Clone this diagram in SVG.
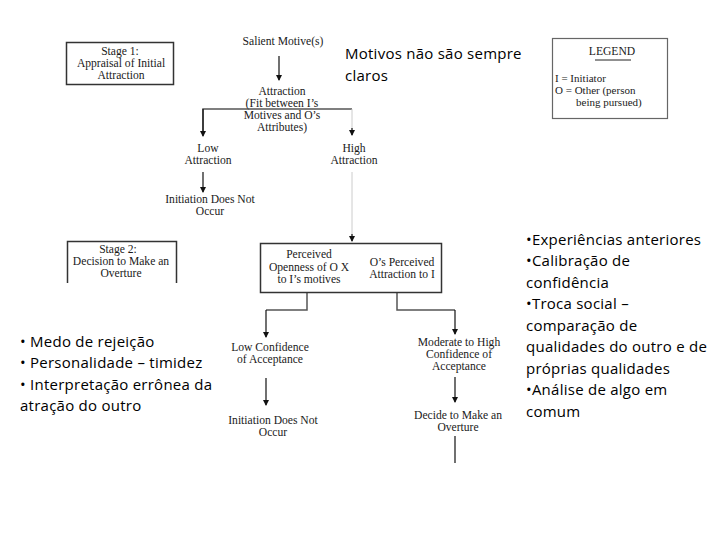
<svg xmlns="http://www.w3.org/2000/svg" width="720" height="540" viewBox="0 0 720 540">
<defs>
<marker id="ah" markerWidth="6" markerHeight="6" refX="5" refY="3" orient="auto" markerUnits="userSpaceOnUse">
<path d="M0,0 L6,3 L0,6 Z" fill="#111"/>
</marker>
<style>
.s{font-family:"Liberation Serif","Times New Roman",serif;font-size:11.6px;fill:#1a1a1a;text-anchor:middle}
.sl{font-family:"Liberation Serif","Times New Roman",serif;font-size:11px;fill:#1a1a1a}
.c{font-family:"Open Sans","Liberation Sans",Arial,sans-serif;font-size:15px;letter-spacing:0.25px;fill:#000}
.box{fill:#fff;stroke:#333;stroke-width:1.5}
.ln{fill:none;stroke:#111;stroke-width:1.2}
.hl{fill:none;stroke:#555;stroke-width:1.5}
.gl{fill:none;stroke:#ccc;stroke-width:1}
</style>
</defs>
<rect width="720" height="540" fill="#fff"/>

<g id="connectors">
<line class="ln" x1="279" y1="56" x2="279" y2="80" marker-end="url(#ah)"/>
<polyline class="hl" points="203,135 203,109 352,109"/>
<line class="ln" x1="203" y1="109" x2="203" y2="136" marker-end="url(#ah)"/>
<line class="gl" x1="352" y1="109" x2="352" y2="135"/>
<line class="ln" x1="352" y1="128" x2="352" y2="135" marker-end="url(#ah)"/>
<line class="ln" x1="203" y1="172" x2="203" y2="192" marker-end="url(#ah)"/>
<line class="gl" x1="352" y1="172" x2="352" y2="240"/>
<line class="ln" x1="352" y1="234" x2="352" y2="241" marker-end="url(#ah)"/>
<polyline class="hl" points="307,293 307,310 266,310"/>
<line class="ln" x1="266" y1="310" x2="266" y2="337" marker-end="url(#ah)"/>
<polyline class="hl" points="397,293 397,310 455,310"/>
<line class="ln" x1="455" y1="310" x2="455" y2="334" marker-end="url(#ah)"/>
<line class="ln" x1="266" y1="378" x2="266" y2="405" marker-end="url(#ah)"/>
<line class="ln" x1="455" y1="377" x2="455" y2="402" marker-end="url(#ah)"/>
<line class="ln" x1="455" y1="436" x2="455" y2="463"/>
</g>

<g id="stage1">
<rect class="box" x="66.5" y="42.5" width="107" height="42"/>
<text class="s"><tspan x="120" y="55">Stage 1:</tspan><tspan x="121" y="67">Appraisal of Initial</tspan><tspan x="121" y="79">Attraction</tspan></text>
</g>

<g id="salient">
<text class="s" x="283" y="45">Salient Motive(s)</text>
</g>

<g id="attraction">
<text class="s"><tspan x="282" y="95">Attraction</tspan><tspan x="282" y="107">(Fit between I’s</tspan><tspan x="282" y="119">Motives and O’s</tspan><tspan x="282" y="131">Attributes)</tspan></text>
</g>

<g id="low-attraction">
<text class="s"><tspan x="208" y="152">Low</tspan><tspan x="208" y="164">Attraction</tspan></text>
</g>

<g id="high-attraction">
<text class="s"><tspan x="354" y="152">High</tspan><tspan x="354" y="164">Attraction</tspan></text>
</g>

<g id="no-initiation-1">
<text class="s"><tspan x="210" y="203">Initiation Does Not</tspan><tspan x="210" y="215">Occur</tspan></text>
</g>

<g id="motivos-note">
<text class="c"><tspan x="345" y="59">Motivos não são sempre</tspan><tspan x="345" y="81">claros</tspan></text>
</g>

<g id="legend">
<rect x="552.5" y="38.5" width="115" height="80" fill="#fff" stroke="#666" stroke-width="1.2"/>
<text class="s" x="612" y="55">LEGEND</text>
<line x1="595" y1="60" x2="631" y2="60" stroke="#222" stroke-width="1"/>
<text class="sl"><tspan x="555" y="82">I  = Initiator</tspan><tspan x="555" y="94">O = Other (person</tspan><tspan x="576" y="106">being pursued)</tspan></text>
</g>

<g id="stage2">
<path d="M67.5,283 L67.5,241.5 L176.5,241.5 L176.5,283" fill="#fff" stroke="#333" stroke-width="1.5"/>
<text class="s"><tspan x="118" y="253">Stage 2:</tspan><tspan x="121" y="265">Decision to Make an</tspan><tspan x="121" y="277">Overture</tspan></text>
</g>

<g id="perceived">
<rect class="box" x="260.5" y="243.5" width="181" height="49"/>
<text class="s"><tspan x="309" y="258">Perceived</tspan><tspan x="309" y="271">Openness of O X</tspan><tspan x="309" y="283">to I’s motives</tspan></text>
<text class="s"><tspan x="402" y="266">O’s Perceived</tspan><tspan x="402" y="278">Attraction to I</tspan></text>
</g>

<g id="low-confidence">
<text class="s"><tspan x="270" y="351">Low Confidence</tspan><tspan x="270" y="363">of Acceptance</tspan></text>
</g>

<g id="no-initiation-2">
<text class="s"><tspan x="273" y="424">Initiation Does Not</tspan><tspan x="273" y="436">Occur</tspan></text>
</g>

<g id="moderate-confidence">
<text class="s"><tspan x="459" y="346">Moderate to High</tspan><tspan x="459" y="358">Confidence of</tspan><tspan x="459" y="370">Acceptance</tspan></text>
</g>

<g id="decide">
<text class="s"><tspan x="458" y="419">Decide to Make an</tspan><tspan x="458" y="431">Overture</tspan></text>
</g>

<g id="left-notes">
<text class="c"><tspan x="20" y="347">• Medo de rejeição</tspan><tspan x="20" y="368">• Personalidade – timidez</tspan><tspan x="20" y="390">• Interpretação errônea da</tspan><tspan x="20" y="411">atração do outro</tspan></text>
</g>

<g id="right-notes">
<text class="c"><tspan x="526" y="245">•Experiências anteriores</tspan><tspan x="526" y="266">•Calibração de</tspan><tspan x="526" y="288">confidência</tspan><tspan x="526" y="309">•Troca social –</tspan><tspan x="526" y="331">comparação de</tspan><tspan x="526" y="352">qualidades do outro e de</tspan><tspan x="526" y="374">próprias qualidades</tspan><tspan x="526" y="395">•Análise de algo em</tspan><tspan x="526" y="417">comum</tspan></text>
</g>
</svg>
